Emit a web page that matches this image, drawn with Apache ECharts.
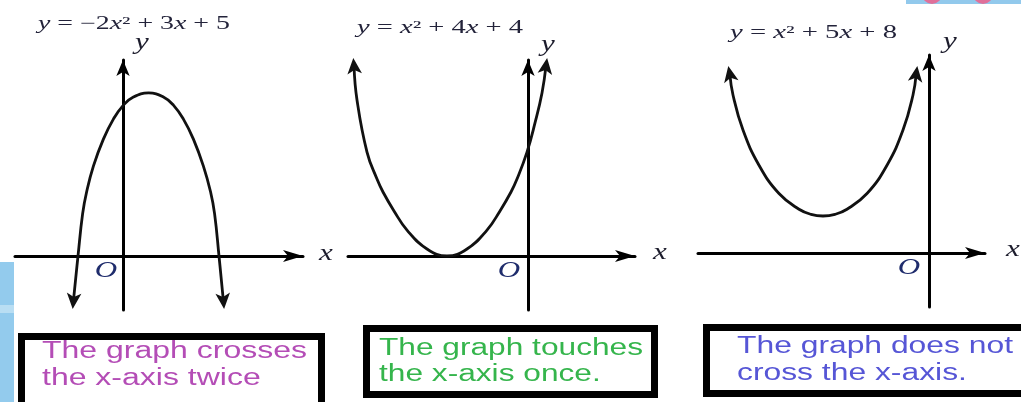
<!DOCTYPE html>
<html><head><meta charset="utf-8">
<script src="https://cdn.jsdelivr.net/npm/echarts@6/dist/echarts.min.js"></script>
<style>html,body{margin:0;padding:0;background:#fff;}#c{width:1021px;height:402px;}</style>
</head><body><div id="c"></div>
<script>
// ---- data ----
const equations = ['y = −2x² + 3x + 5', 'y = x² + 4x + 4', 'y = x² + 5x + 8'];
const captionLine1 = ['The graph crosses', 'The graph touches', 'The graph does not'];
const captionLine2 = ['the x-axis twice', 'the x-axis once.', 'cross the x-axis.'];
const axisLetters = ['x', 'y', 'O'];
// curve points [x, y] (first and last points carry the arrow heads)
const curve1 = [[-1.24,-1.67],[-1.125,0],[-1.01,1.56],[-0.91,2.37],[-0.74,3.33],[-0.49,4.33],[-0.24,5.07],[0.01,5.59],[0.26,5.89],[0.64,6.04],[1.01,5.89],[1.26,5.59],[1.51,5.07],[1.76,4.33],[2.01,3.33],[2.19,2.37],[2.29,1.56],[2.40,0],[2.51,-1.67]];
const curve2 = [[-4.35,7.04],[-4.275,5.78],[-4.025,3.85],[-3.775,2.85],[-3.625,2.37],[-3.35,1.67],[-3.025,0.96],[-2.525,0.26],[-2.025,0],[-1.525,0.26],[-1.025,0.96],[-0.7,1.67],[-0.425,2.37],[-0.275,2.85],[-0.025,3.85],[0.175,4.93],[0.35,6.04],[0.45,7.04]];
const curve3 = [[-4.98,6.63],[-4.9,5.85],[-4.65,4.55],[-4.25,3.25],[-3.75,2.2],[-3.25,1.62],[-2.95,1.43],[-2.65,1.37],[-2.35,1.43],[-2.05,1.62],[-1.55,2.2],[-1.05,3.25],[-0.65,4.55],[-0.4,5.85],[-0.32,6.63]];

// ---- layout / style ----
const curves = [curve1, curve2, curve3];
const panels = [
  {grid:{left:15, right:718, top:60, bottom:92}, xr:[-2.7,4.5], yr:[-2,7.26], arrows:[175,185],
   eq:{x:38, y:24, w:192}, cap:{box:[21.5,336.5,300,90], x:42, y1:351.5, y2:378.5, w:265, color:'#b44db6'},
   lx:[326,254], ly:[142,43], lo:[106,271]},
  {grid:{left:348, right:386, top:60, bottom:92}, xr:[-4.5,2.675], yr:[-2,7.26], arrows:[5,-8],
   eq:{x:357, y:28, w:166}, cap:{box:[366.5,328.5,288,66], x:379, y1:348.5, y2:374.5, w:264, color:'#35b54c'},
   lx:[660,253], ly:[548,45], lo:[509,271]},
  {grid:{left:698, right:36, top:55, bottom:95}, xr:[-5.775,1.4], yr:[-2,7.33], arrows:[11,-8],
   eq:{x:730, y:33, w:167}, cap:{box:[706.5,327.5,400,66], x:737, y1:346.5, y2:373.5, w:276, color:'#5656d6'},
   lx:[1013,250], ly:[950,42], lo:[909,268]}
];

const ctx = document.createElement('canvas').getContext('2d');
function tw(text, font){ ctx.font = font; return ctx.measureText(text).width; }

const serif = '"Liberation Serif","DejaVu Serif",serif';
const sans = '"Liberation Sans",Arial,sans-serif';
const eqFont = '18px ' + serif, eqItal = 'italic 18px ' + serif;
const capFont = '23.5px ' + sans;
const lblFont = 'italic 23px ' + serif;
const STRETCH = 1.35;
const CURVE_COLOR = '#111';

const grids=[], xAxes=[], yAxes=[], series=[], graphics=[];

// background decorations of the original slide
graphics.push({type:'rect', z:-10, shape:{x:0,y:262,width:14,height:140}, style:{fill:'#93cbed'}});
graphics.push({type:'rect', z:-10, shape:{x:0,y:305,width:14,height:8}, style:{fill:'#b9def3'}});
graphics.push({type:'rect', z:-10, shape:{x:906,y:0,width:115,height:4}, style:{fill:'#92c9ec'}});
graphics.push({type:'circle', z:-9, shape:{cx:932,cy:-6,r:10}, style:{fill:'#e0709a'}});
graphics.push({type:'circle', z:-9, shape:{cx:983,cy:-6,r:10}, style:{fill:'#e0709a'}});

function arrowHead(pt, deg){
  // same outline as ECharts' built-in 'arrow' symbol (11 x 16), pointing up before rotation
  return {type:'polygon', x:pt[0], y:pt[1], rotation:deg*Math.PI/180,
    shape:{points:[[0,-8],[7.3,8],[0,4],[-7.3,8]]}, style:{fill:CURVE_COLOR, stroke:null}};
}

panels.forEach((p, i) => {
  grids.push(Object.assign({containLabel:false}, p.grid));
  xAxes.push({type:'value', gridIndex:i, min:p.xr[0], max:p.xr[1],
    axisLine:{onZero:true, symbol:['none','arrow'], symbolSize:[9,20], lineStyle:{color:'#000', width:3}},
    axisTick:{show:false}, axisLabel:{show:false}, splitLine:{show:false}});
  yAxes.push({type:'value', gridIndex:i, min:p.yr[0], max:p.yr[1],
    axisLine:{onZero:true, symbol:['none','arrow'], symbolSize:[10,16], lineStyle:{color:'#000', width:3}},
    axisTick:{show:false}, axisLabel:{show:false}, splitLine:{show:false}});
  const pts = curves[i];
  series.push({type:'custom', xAxisIndex:i, yAxisIndex:i, data:pts, silent:true, animation:false, clip:false, z:3,
    encode:{x:0, y:1},
    renderItem:(params, api) => {
      if (params.dataIndex !== 0) return null;
      const px = pts.map(v => api.coord(v));
      return {type:'group', children:[
        {type:'polyline', shape:{points:px, smooth:0.45}, style:{stroke:CURVE_COLOR, lineWidth:2.8, fill:null}},
        arrowHead(px[0], p.arrows[0]),
        arrowHead(px[px.length-1], p.arrows[1])
      ]};
    }});

  // equation title
  const eq = equations[i];
  let w = 0;
  eq.split('').forEach(ch => { w += tw(ch, (ch==='x'||ch==='y') ? eqItal : eqFont); });
  graphics.push({type:'text', x:p.eq.x, y:p.eq.y, scaleX:p.eq.w / w, z:10,
    style:{text:eq.replace(/([xy])/g, '{i|$1}'), font:eqFont, fill:'#23233a', align:'left', verticalAlign:'middle',
      rich:{i:{font:eqItal, fill:'#23233a'}}}});

  // axis letters
  const lab = (t, pos, col) => graphics.push({type:'text', x:pos[0], y:pos[1], scaleX:STRETCH, z:10,
    style:{text:t, font:lblFont, fill:col, align:'center', verticalAlign:'middle'}});
  lab(axisLetters[0], p.lx, '#1c1c2c');
  lab(axisLetters[1], p.ly, '#1c1c2c');
  lab(axisLetters[2], p.lo, '#1f2c6c');

  // caption box
  const b = p.cap.box;
  graphics.push({type:'rect', z:5, shape:{x:b[0], y:b[1], width:b[2], height:b[3]},
    style:{fill:'#fff', stroke:'#000', lineWidth:7}});
  const sc = p.cap.w / tw(captionLine1[i], capFont);
  [[captionLine1[i], p.cap.y1],[captionLine2[i], p.cap.y2]].forEach(([t, y]) => {
    graphics.push({type:'text', x:p.cap.x, y:y, scaleX:sc, z:10,
      style:{text:t, font:capFont, fill:p.cap.color, align:'left', verticalAlign:'middle'}});
  });
});

const chart = echarts.init(document.getElementById('c'), null, {renderer:'canvas'});
chart.setOption({animation:false, backgroundColor:'#fff', grid:grids, xAxis:xAxes, yAxis:yAxes, series:series, graphic:{elements:graphics}});
</script></body></html>
